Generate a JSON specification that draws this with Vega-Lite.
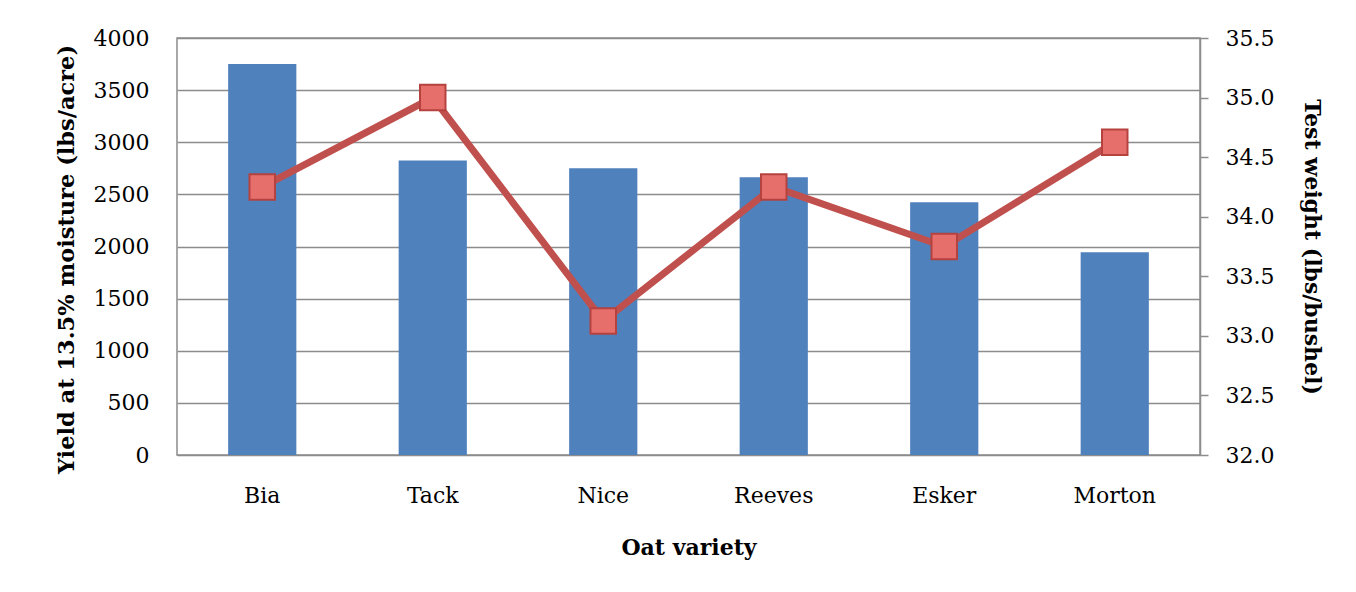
{
  "$schema": "https://vega.github.io/schema/vega-lite/v6.json",
  "autosize": {"type": "none"},
  "width": 1023,
  "height": 417,
  "padding": {"left": 177, "top": 38, "right": 156, "bottom": 137},
  "background": "white",
  "config": {
    "font": "DejaVu Serif",
    "view": {"stroke": "#8c8c8c", "strokeWidth": 1.5},
    "axis": {"labelFont": "DejaVu Serif", "titleFont": "DejaVu Serif", "labelColor": "#000", "titleColor": "#000"}
  },
  "data": {"values": [
    {"variety": "Bia", "yield": 3750, "weight": 34.25},
    {"variety": "Tack", "yield": 2825, "weight": 35.0},
    {"variety": "Nice", "yield": 2750, "weight": 33.125},
    {"variety": "Reeves", "yield": 2665, "weight": 34.25},
    {"variety": "Esker", "yield": 2425, "weight": 33.75},
    {"variety": "Morton", "yield": 1945, "weight": 34.625}
  ]},
  "encoding": {
    "x": {
      "field": "variety", "type": "nominal", "sort": null,
      "scale": {"paddingInner": 0.6, "paddingOuter": 0.3},
      "axis": {
        "title": "Oat variety", "labelAngle": 0, "ticks": false, "domain": false,
        "labelFontSize": 22, "labelPadding": 30,
        "titleFontSize": 22, "titleFontWeight": "bold", "titlePadding": 31
      }
    }
  },
  "layer": [
    {
      "mark": {"type": "bar", "color": "#4F81BD"},
      "encoding": {
        "y": {
          "field": "yield", "type": "quantitative",
          "scale": {"domain": [0, 4000], "nice": false},
          "axis": {
            "title": "Yield at 13.5% moisture (lbs/acre)",
            "values": [0, 500, 1000, 1500, 2000, 2500, 3000, 3500, 4000],
            "format": "d",
            "ticks": false, "domain": false,
            "grid": true, "gridColor": "#8c8c8c", "gridWidth": 1.5,
            "labelFontSize": 22, "labelPadding": 28,
            "titleFontSize": 22.5, "titleFontWeight": "bold", "titlePadding": 15,
            "titleY": 221
          }
        }
      }
    },
    {
      "mark": {
        "type": "line", "color": "#C0504D", "strokeWidth": 7,
        "point": {"shape": "square", "size": 650, "filled": true, "fill": "#E66F6C", "stroke": "#B5423F", "strokeWidth": 2, "opacity": 1}
      },
      "encoding": {
        "y": {
          "field": "weight", "type": "quantitative",
          "scale": {"domain": [32, 35.5], "nice": false, "zero": false},
          "axis": {
            "orient": "right",
            "title": "Test weight (lbs/bushel)",
            "values": [32, 32.5, 33, 33.5, 34, 34.5, 35, 35.5],
            "format": ".1f",
            "grid": false, "domain": true, "domainColor": "#8c8c8c", "domainWidth": 1.5,
            "ticks": true, "tickSize": 8, "tickColor": "#8c8c8c", "tickWidth": 1.5,
            "labelFontSize": 22, "labelPadding": 17,
            "titleFontSize": 22, "titleFontWeight": "bold", "titlePadding": 26
          }
        }
      }
    }
  ],
  "resolve": {"scale": {"y": "independent"}}
}
